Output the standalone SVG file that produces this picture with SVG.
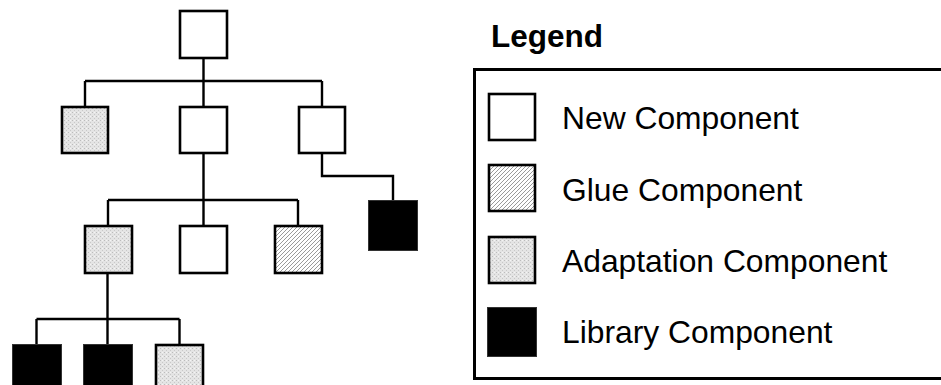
<svg xmlns="http://www.w3.org/2000/svg" width="941" height="385" viewBox="0 0 941 385">
<defs>
<pattern id="glue" patternUnits="userSpaceOnUse" width="4" height="4">
<rect width="4" height="4" fill="#ffffff"/>
<path d="M0,4 L4,0 M-1,1 L1,-1 M3,5 L5,3" stroke="#9a9a9a" stroke-width="1"/>
</pattern>
<pattern id="adapt" patternUnits="userSpaceOnUse" width="4" height="4">
<rect width="4" height="4" fill="#e4e4e4"/>
<rect x="0" y="0" width="1" height="1" fill="#bcbcbc"/>
<rect x="2" y="2" width="1" height="1" fill="#c8c8c8"/>
<rect x="2" y="0" width="1" height="1" fill="#f4f4f4"/>
</pattern>
<style>
.box{stroke:#000;stroke-width:2.6}
.new{fill:#fff}
.glue{fill:url(#glue)}
.adapt{fill:url(#adapt)}
.lib{fill:#000;stroke:#333;stroke-width:1}
.wire{fill:none;stroke:#000;stroke-width:2.4}
.lbl{font-family:"Liberation Sans",Arial,sans-serif;font-size:31.8px;fill:#000}
.title{font-family:"Liberation Sans",Arial,sans-serif;font-size:31.5px;font-weight:bold;fill:#000}
</style>
</defs>
<rect width="941" height="385" fill="#fff"/>
<g id="connectors">
<path class="wire" d="M203.5,58 V81 M85,81 H322 M85,81 V106 M203.5,81 V106 M322,81 V106"/>
<path class="wire" d="M203.5,154 V200 M108,200 H298 M108,200 V225 M203.5,200 V225 M298,200 V225"/>
<path class="wire" d="M322,154 V176 H393 V200"/>
<path class="wire" d="M107.5,274 V319 M36.5,319 H179.5 M36.5,319 V344 M107.5,319 V344 M179.5,319 V344"/>
</g>
<g id="n0"><rect class="box new" x="180" y="11" width="47" height="47"/></g>
<g id="n1"><rect class="box adapt" x="62" y="107" width="46" height="46"/></g>
<g id="n2"><rect class="box new" x="180" y="107" width="47" height="46"/></g>
<g id="n3"><rect class="box new" x="299" y="107" width="46" height="46"/></g>
<g id="n4"><rect class="box adapt" x="85" y="226" width="47" height="47"/></g>
<g id="n5"><rect class="box new" x="180" y="226" width="47" height="47"/></g>
<g id="n6"><rect class="box glue" x="275" y="226" width="47" height="47"/></g>
<g id="n7"><rect class="lib" x="368.5" y="200.5" width="49" height="50"/></g>
<g id="n8"><rect class="lib" x="12.5" y="344.5" width="49" height="50"/></g>
<g id="n9"><rect class="lib" x="83.5" y="344.5" width="49" height="50"/></g>
<g id="n10"><rect class="box adapt" x="156" y="345" width="47" height="47"/></g>
<g id="legend">
<text class="title" x="491" y="47">Legend</text>
<rect x="474.5" y="69.5" width="475" height="309" fill="none" stroke="#000" stroke-width="3"/>
<g id="legend-new"><rect class="box new" x="489" y="94" width="46" height="46"/><text class="lbl" x="562" y="129">New Component</text></g>
<g id="legend-glue"><rect class="box glue" x="489" y="165" width="46" height="46"/><text class="lbl" x="562" y="201">Glue Component</text></g>
<g id="legend-adapt"><rect class="box adapt" x="489" y="237" width="46" height="46"/><text class="lbl" x="562" y="272">Adaptation Component</text></g>
<g id="legend-lib"><rect class="lib" x="487.5" y="307.5" width="49" height="49"/><text class="lbl" x="562" y="343">Library Component</text></g>
</g>
</svg>
